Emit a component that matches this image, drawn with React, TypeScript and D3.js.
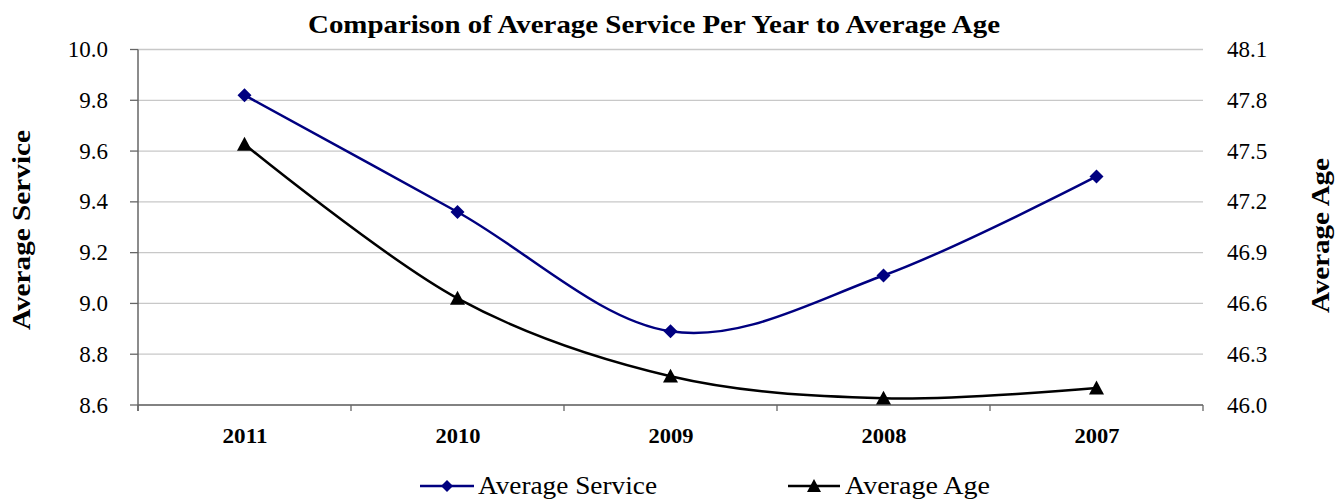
import React from "react";
import * as d3 from "d3";

const categories = ["2011", "2010", "2009", "2008", "2007"];
const serviceValues = [9.82, 9.36, 8.89, 9.11, 9.5];
const ageValues = [47.54, 46.63, 46.17, 46.04, 46.1];
const leftTicks = [8.6, 8.8, 9.0, 9.2, 9.4, 9.6, 9.8, 10.0];
const rightTicks = [46.0, 46.3, 46.6, 46.9, 47.2, 47.5, 47.8, 48.1];
const title = "Comparison of Average Service Per Year to Average Age";
const serviceName = "Average Service";
const ageName = "Average Age";

const W = 1344;
const H = 500;
const L = 138;
const R = 1203;
const T = 49.5;
const B = 405;
const FONT = "'Liberation Serif', 'DejaVu Serif', serif";
const NAVY = "#000080";

export default function App() {
  const x = d3.scaleBand<string>().domain(categories).range([L, R]).padding(0);
  const yL = d3.scaleLinear().domain([8.6, 10.0]).range([B, T]);
  const yR = d3.scaleLinear().domain([46.0, 48.1]).range([B, T]);
  const cx = (c: string) => (x(c) as number) + x.bandwidth() / 2;

  const line = d3.line<[number, number]>().curve(d3.curveCardinal.tension(0));
  const sPts: [number, number][] = categories.map((c, i) => [cx(c), yL(serviceValues[i])]);
  const aPts: [number, number][] = categories.map((c, i) => [cx(c), yR(ageValues[i])]);

  const diamond = (px: number, py: number, r: number) =>
    `M${px},${py - r}L${px + r},${py}L${px},${py + r}L${px - r},${py}Z`;
  const tri = (px: number, py: number, r: number) =>
    `M${px},${py - r}L${px + r},${py + r * 0.85}L${px - r},${py + r * 0.85}Z`;

  const boundaries = [...categories.map((c) => x(c) as number), R];

  return (
    <svg width={W} height={H} style={{ display: "block", position: "absolute", left: 0, top: 0 }}>
      <rect x={0} y={0} width={W} height={H} fill="#fff" />
      <text x={308} y={33} textLength={692} lengthAdjust="spacingAndGlyphs" fontFamily={FONT} fontWeight="bold" fontSize={25}>
        {title}
      </text>
      {leftTicks.map((t) => (
        <line key={"g" + t} x1={L} x2={R} y1={yL(t)} y2={yL(t)} stroke="#c8c8c8" strokeWidth={1.3} />
      ))}
      {leftTicks.map((t) => (
        <g key={"l" + t}>
          <line x1={L - 8} x2={L} y1={yL(t)} y2={yL(t)} stroke="#666" strokeWidth={1.3} />
          <text x={108} y={yL(t) + 7.5} textAnchor="end" fontFamily={FONT} fontSize={23}>
            {t.toFixed(1)}
          </text>
        </g>
      ))}
      {rightTicks.map((t) => (
        <text key={"r" + t} x={1227} y={yR(t) + 7.5} textAnchor="start" fontFamily={FONT} fontSize={23}>
          {t.toFixed(1)}
        </text>
      ))}
      <line x1={L} x2={L} y1={T} y2={B + 6} stroke="#666" strokeWidth={1.5} />
      <line x1={L} x2={R} y1={B} y2={B} stroke="#666" strokeWidth={1.5} />
      {boundaries.map((b, i) => (
        <line key={"xt" + i} x1={b} x2={b} y1={B} y2={B + 6} stroke="#666" strokeWidth={1.3} />
      ))}
      {categories.map((c) => (
        <text
          key={"x" + c}
          x={cx(c) - 22}
          y={443}
          textLength={45}
          lengthAdjust="spacingAndGlyphs"
          fontFamily={FONT}
          fontWeight="bold"
          fontSize={22}
        >
          {c}
        </text>
      ))}
      <text
        transform={`translate(30,330) rotate(-90)`}
        textLength={200}
        lengthAdjust="spacingAndGlyphs"
        fontFamily={FONT}
        fontWeight="bold"
        fontSize={25}
      >
        {serviceName}
      </text>
      <text
        transform={`translate(1329,313) rotate(-90)`}
        textLength={155}
        lengthAdjust="spacingAndGlyphs"
        fontFamily={FONT}
        fontWeight="bold"
        fontSize={25}
      >
        {ageName}
      </text>
      <path d={line(sPts) ?? ""} fill="none" stroke={NAVY} strokeWidth={2.5} />
      <path d={line(aPts) ?? ""} fill="none" stroke="#000" strokeWidth={2.5} />
      {sPts.map(([px, py], i) => (
        <path key={"d" + i} d={diamond(px, py, 7)} fill={NAVY} />
      ))}
      {aPts.map(([px, py], i) => (
        <path key={"t" + i} d={tri(px, py, 7.5)} fill="#000" />
      ))}
      <g>
        <line x1={420} x2={474} y1={486} y2={486} stroke={NAVY} strokeWidth={2.5} />
        <path d={diamond(447, 486, 6)} fill={NAVY} />
        <text x={478} y={494} textLength={179} lengthAdjust="spacingAndGlyphs" fontFamily={FONT} fontSize={25}>
          {serviceName}
        </text>
        <line x1={788} x2={840} y1={486} y2={486} stroke="#000" strokeWidth={2.5} />
        <path d={tri(814, 486, 7)} fill="#000" />
        <text x={845} y={494} textLength={145} lengthAdjust="spacingAndGlyphs" fontFamily={FONT} fontSize={25}>
          {ageName}
        </text>
      </g>
    </svg>
  );
}
